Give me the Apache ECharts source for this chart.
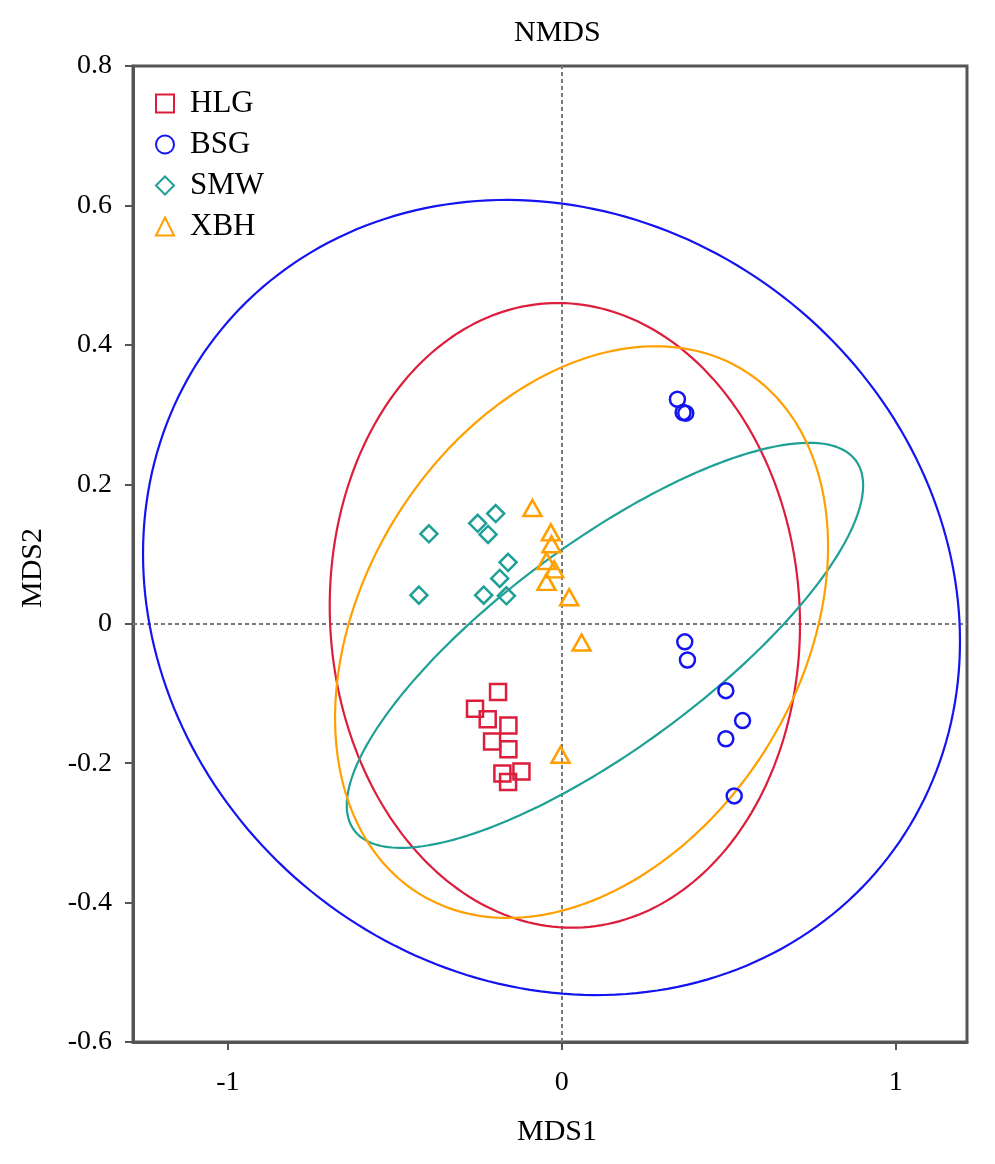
<!DOCTYPE html>
<html><head><meta charset="utf-8">
<script src="https://cdn.jsdelivr.net/npm/echarts@6/dist/echarts.min.js"></script>
<style>html,body{margin:0;padding:0;background:#fff}#c{width:995px;height:1164px}</style>
</head><body><div id="c"></div>
<script>
// ---- data ----
const groupNames = ['HLG', 'BSG', 'SMW', 'XBH'];
const HLG = [[-0.191,-0.098],[-0.260,-0.122],[-0.222,-0.137],[-0.160,-0.146],[-0.209,-0.169],[-0.160,-0.180],[-0.178,-0.215],[-0.121,-0.212],[-0.161,-0.227]];
const BSG = [[0.346,0.322],[0.363,0.303],[0.371,0.302],[0.368,-0.026],[0.376,-0.052],[0.491,-0.096],[0.541,-0.139],[0.491,-0.165],[0.516,-0.247]];
const SMW = [[-0.398,0.129],[-0.252,0.144],[-0.198,0.158],[-0.221,0.128],[-0.161,0.088],[-0.186,0.065],[-0.428,0.041],[-0.234,0.041],[-0.166,0.040]];
const XBH = [[-0.088,0.166],[-0.033,0.131],[-0.031,0.114],[-0.046,0.090],[-0.023,0.078],[-0.046,0.060],[0.022,0.038],[0.059,-0.027],[-0.004,-0.188]];
// ellipse outlines: [centerX, centerY, halfWidth, halfHeight, xyCorrelation]
const ellHLG = [0.009, 0.012, 0.704, 0.448, -0.03];
const ellBSG = [-0.031, 0.0376, 1.223, 0.5703, -0.11];
const ellSMW = [0.129, -0.031, 0.773, 0.2905, 0.79];
const ellXBH = [0.059, -0.012, 0.738, 0.410, 0.30];
const xTicks = [-1, 0, 1];

const colors = {HLG:'#dc1e3c', BSG:'#1414f0', SMW:'#1fa096', XBH:'#ffa000'};
const symbols = {HLG:'rect', BSG:'circle', SMW:'diamond', XBH:'triangle'};
const sizes = {HLG:[16,16], BSG:[15,15], SMW:[17,17], XBH:[18,16]};
const points = {HLG, BSG, SMW, XBH};
const ells = {HLG: ellHLG, BSG: ellBSG, SMW: ellSMW, XBH: ellXBH};
const FONT = '"Liberation Serif", "Times New Roman", serif';

const series = [];
groupNames.forEach((g, i) => {
  const s = {
    name: g, type: 'scatter', data: points[g], symbol: symbols[g], symbolSize: sizes[g],
    itemStyle: {color: 'rgba(255,255,255,0)', borderColor: colors[g], borderWidth: 2.5, opacity: 1},
    z: 5
  };
  if (i === 0) {
    s.markLine = {
      silent: true, symbol: 'none', animation: false,
      label: {show: false},
      lineStyle: {type: [4, 3], color: '#7a7a7a', width: 2},
      data: [{xAxis: 0}, {yAxis: 0}],
      z: 1
    };
  }
  series.push(s);
});
groupNames.forEach(g => {
  series.push({
    name: g, type: 'custom', data: [ells[g]], z: 3, silent: true,
    encode: {x: 0, y: 1},
    renderItem: function (params, api) {
      const cx = api.value(0), cy = api.value(1), W = api.value(2), H = api.value(3), r = api.value(4);
      const sq = Math.sqrt(1 - r * r);
      const pts = [];
      for (let k = 0; k <= 240; k++) {
        const t = k / 240 * 2 * Math.PI;
        pts.push(api.coord([cx + W * Math.cos(t), cy + H * (r * Math.cos(t) + sq * Math.sin(t))]));
      }
      return {type: 'polygon', shape: {points: pts}, style: {fill: 'none', stroke: colors[g], lineWidth: 2.2}};
    }
  });
});

const chart = echarts.init(document.getElementById('c'), null, {renderer: 'canvas'});
chart.setOption({
  animation: false,
  backgroundColor: '#fff',
  title: {text: 'NMDS', left: 509, top: 13, textStyle: {fontFamily: FONT, fontSize: 30, fontWeight: 'normal', color: '#000'}},
  legend: {
    data: groupNames.map(g => ({name: g, icon: symbols[g]})),
    orient: 'vertical', left: 150, top: 83,
    itemWidth: 18, itemHeight: 18, itemGap: 10,
    textStyle: {fontFamily: FONT, fontSize: 31, color: '#000', padding: [0, 0, 0, 11]}
  },
  grid: {left: 133, right: 28, top: 66, bottom: 122, show: true, borderColor: '#555', borderWidth: 3, containLabel: false},
  xAxis: {
    type: 'value', min: -1.284, max: 1.213,
    name: 'MDS1', nameLocation: 'middle', nameGap: 75,
    nameTextStyle: {fontFamily: FONT, fontSize: 30, color: '#000', padding: [0, 0, 0, 14]},
    axisLine: {show: true, onZero: false, lineStyle: {color: '#555', width: 3}},
    axisTick: {show: true, inside: false, length: 8, customValues: xTicks, lineStyle: {color: '#555', width: 2}},
    axisLabel: {customValues: xTicks, margin: 27, fontFamily: FONT, fontSize: 28, color: '#000', formatter: v => String(+(+v).toFixed(2))},
    splitLine: {show: false}
  },
  yAxis: {
    type: 'value', min: -0.6, max: 0.8, interval: 0.2,
    name: 'MDS2', nameLocation: 'middle', nameGap: 85,
    nameTextStyle: {fontFamily: FONT, fontSize: 30, color: '#000', padding: [0, 28, 0, 0]},
    axisLine: {show: true, onZero: false, lineStyle: {color: '#555', width: 3}},
    axisTick: {show: true, inside: false, length: 8, lineStyle: {color: '#555', width: 2}},
    axisLabel: {margin: 21, fontFamily: FONT, fontSize: 28, color: '#000', formatter: v => String(+(+v).toFixed(2))},
    splitLine: {show: false}
  },
  series: series
});
</script></body></html>
